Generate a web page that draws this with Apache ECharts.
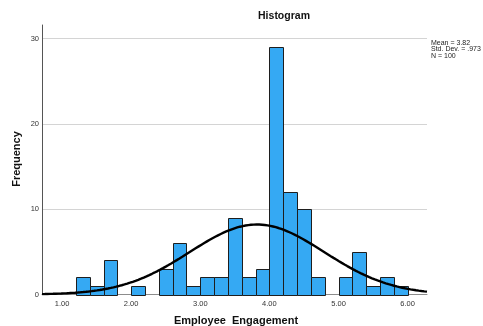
<!DOCTYPE html>
<html>
<head>
<meta charset="utf-8">
<title>Histogram</title>
<script src="https://cdn.jsdelivr.net/npm/echarts@6/dist/echarts.min.js"></script>
<style>
  html, body { margin: 0; padding: 0; background: #fff; }
  #chart { width: 483px; height: 326px; }
</style>
</head>
<body>
<div id="chart"></div>
<script>
// Histogram bins (lower edge of each 0.2-wide bin) and their frequencies
var binStarts = [1.2, 1.4, 1.6, 2.0, 2.4, 2.6, 2.8, 3.0, 3.2, 3.4, 3.6, 3.8, 4.0, 4.2, 4.4, 4.6, 5.0, 5.2, 5.4, 5.6, 5.8];
var counts    = [2,   1,   4,   1,   3,   6,   1,   2,   2,   9,   2,   3,   29,  12,  10,  2,   2,   5,   1,   2,   1];
var binWidth = 0.2;

// Summary statistics shown beside the plot
var mean = 3.82;
var stdDev = 0.973;
var n = 100;

// Axis tick labels
var xTicks = [1, 2, 3, 4, 5, 6];
var yTicks = [0, 10, 20, 30];

var xMin = 0.71, xMax = 6.28;

// Bars as [start, end, count]
var barData = binStarts.map(function (s, i) {
  return [s, s + binWidth, counts[i]];
});

// Fitted normal curve scaled to frequency per bin
var curveData = [];
var steps = 280;
for (var i = 0; i <= steps; i++) {
  var x = xMin + (xMax - xMin) * i / steps;
  var z = (x - mean) / stdDev;
  var y = n * binWidth * Math.exp(-0.5 * z * z) / (stdDev * Math.sqrt(2 * Math.PI));
  curveData.push([x, y]);
}

var chart = echarts.init(document.getElementById('chart'), null, { renderer: 'canvas' });

var fontFamily = 'Arial, "Liberation Sans", sans-serif';

chart.setOption({
  animation: false,
  backgroundColor: '#ffffff',
  grid: { left: 42, right: 56, top: 25, bottom: 31.5, containLabel: false },
  xAxis: {
    type: 'value',
    min: xMin,
    max: xMax,
    axisLine: { show: true, onZero: false, lineStyle: { color: '#8c8c8c', width: 1 } },
    axisTick: { show: false },
    splitLine: { show: false },
    axisLabel: {
      customValues: xTicks,
      formatter: function (v) { return v.toFixed(2); },
      color: '#333',
      fontSize: 7.5,
      fontFamily: fontFamily,
      margin: 5
    }
  },
  yAxis: {
    type: 'value',
    min: 0,
    max: 31.58,
    interval: 10,
    axisLine: { show: true, lineStyle: { color: '#555', width: 1 } },
    axisTick: { show: false },
    splitLine: {
      show: true,
      showMinLine: false,
      showMaxLine: false,
      lineStyle: { color: '#d4d4d4', width: 1 }
    },
    axisLabel: {
      customValues: yTicks,
      color: '#333',
      fontSize: 7.5,
      fontFamily: fontFamily,
      margin: 3
    }
  },
  series: [
    {
      type: 'custom',
      name: 'Frequency',
      data: barData,
      encode: { x: [0, 1], y: 2 },
      renderItem: function (params, api) {
        var top = api.coord([api.value(0), api.value(2)]);
        var bottom = api.coord([api.value(1), 0]);
        return {
          type: 'rect',
          shape: {
            x: Math.round(top[0]) + 0.5,
            y: Math.round(top[1]) + 0.5,
            width: Math.round(bottom[0]) - Math.round(top[0]),
            height: Math.round(bottom[1]) - Math.round(top[1])
          },
          style: { fill: '#35a9f3', stroke: '#1e1e1e', lineWidth: 1 }
        };
      },
      z: 2
    },
    {
      type: 'line',
      name: 'Normal',
      data: curveData,
      showSymbol: false,
      symbol: 'none',
      smooth: false,
      clip: true,
      lineStyle: { color: '#000000', width: 2.4 },
      z: 3
    }
  ],
  graphic: [
    {
      type: 'text',
      x: 284, y: 16,
      style: {
        text: 'Histogram',
        font: 'bold 10.5px ' + fontFamily,
        fill: '#111',
        textAlign: 'center',
        textVerticalAlign: 'middle'
      }
    },
    {
      type: 'text',
      x: 17, y: 159,
      rotation: Math.PI / 2,
      style: {
        text: 'Frequency',
        font: 'bold 11px ' + fontFamily,
        fill: '#111',
        textAlign: 'center',
        textVerticalAlign: 'middle'
      }
    },
    {
      type: 'text',
      x: 236, y: 320.5,
      style: {
        text: 'Employee  Engagement',
        font: 'bold 11px ' + fontFamily,
        fill: '#111',
        textAlign: 'center',
        textVerticalAlign: 'middle'
      }
    },
    {
      type: 'text',
      x: 431, y: 39.5,
      style: {
        text: 'Mean = ' + mean.toFixed(2) + '\nStd. Dev. = ' + stdDev.toFixed(3).replace(/^0/, '') + '\nN = ' + n,
        font: '7px ' + fontFamily,
        lineHeight: 6.5,
        fill: '#222',
        textAlign: 'left',
        textVerticalAlign: 'top'
      }
    }
  ]
});
</script>
</body>
</html>
